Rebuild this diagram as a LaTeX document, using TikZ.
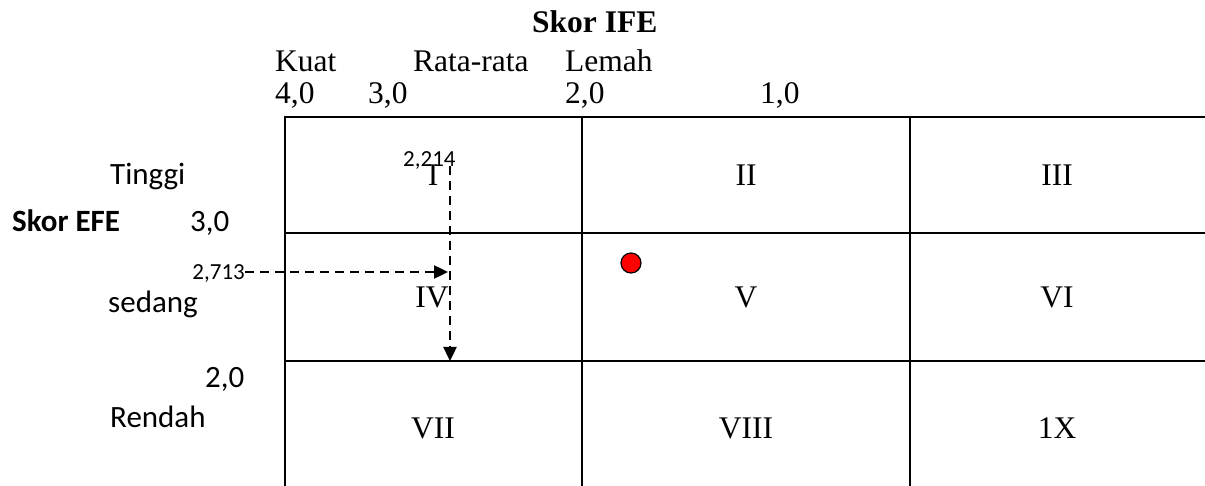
\documentclass[tikz,border=0pt]{standalone}
\usepackage{fontspec}
\setmainfont{Liberation Serif}
\newfontfamily\calfont{Carlito}
\usetikzlibrary{arrows.meta}
\tikzset{
  grid/.style={line width=2.4pt, line cap=rect},
  serif/.style={inner sep=0pt, font=\fontsize{31.5}{36}\selectfont},
  sans/.style={inner sep=0pt, font=\calfont\fontsize{31}{36}\selectfont},
  small/.style={inner sep=0pt, font=\calfont\fontsize{23}{26}\selectfont},
  dasharrow/.style={line width=2.4pt, dash pattern=on 9pt off 6pt, -{Triangle[length=14pt,width=13pt]}},
  cell/.style={serif, anchor=base}
}
\begin{document}
\begin{tikzpicture}[x=1pt,y=-1pt]
\useasboundingbox (0,0) rectangle (1205,486);
% grid
\draw[grid] (285,117) -- (1205,117);
\draw[grid] (285,233) -- (1205,233);
\draw[grid] (285,361) -- (1205,361);
\draw[grid] (285,117) -- (285,486);
\draw[grid] (582,117) -- (582,486);
\draw[grid] (910,117) -- (910,486);
% top labels
\node[serif, anchor=base west, font=\bfseries\fontsize{31.5}{36}\selectfont] (ife) at (532,33) {Skor IFE};
\node[serif, anchor=base west] (kuat) at (275,72) {Kuat};
\node[serif, anchor=base west] (rata) at (413,72) {Rata-rata};
\node[serif, anchor=base west] (lemah) at (565,72) {Lemah};
\node[serif, anchor=base west] (x4) at (275,104) {4,0};
\node[serif, anchor=base west] (x3) at (368,104) {3,0};
\node[serif, anchor=base west] (x2) at (565,104) {2,0};
\node[serif, anchor=base west] (x1) at (760,104) {1,0};
% left labels
\node[sans, anchor=base west] (tinggi) at (110,185) {Tinggi};
\node[sans, anchor=base west, font=\calfont\bfseries\fontsize{31}{36}\selectfont] (efe) at (12,232) {Skor EFE};
\node[sans, anchor=base west] (y3) at (190,232) {3,0};
\node[sans, anchor=base west] (sedang) at (108,313) {sedang};
\node[sans, anchor=base west] (y2) at (205,388) {2,0};
\node[sans, anchor=base west] (rendah) at (110,427) {Rendah};
% cells
\node[cell] (c1) at (433,186) {I};
\node[cell] (c2) at (746,186) {II};
\node[cell] (c3) at (1057,186) {III};
\node[cell] (c4) at (432,308) {IV};
\node[cell] (c5) at (746,308) {V};
\node[cell] (c6) at (1057,308) {VI};
\node[cell] (c7) at (433,438) {VII};
\node[cell] (c8) at (746,438) {VIII};
\node[cell] (c9) at (1057,438) {1X};
% values and arrows
\node[small, anchor=base east] (v2713) at (245,280) {2,713};
\node[small, anchor=base west] (v2214) at (403,167) {2,214};
\coordinate (hEnd) at (448,272);
\coordinate (vStart) at (450,166);
\coordinate (vEnd) at (450,361);
\draw[dasharrow] (v2713.east |- hEnd) -- (hEnd);
\draw[dasharrow] (vStart) -- (vEnd);
% position point
\node[circle, fill=red, draw=black, line width=1.2pt, minimum size=20pt, inner sep=0pt] (pos) at (631,263) {};
\end{tikzpicture}
\end{document}
